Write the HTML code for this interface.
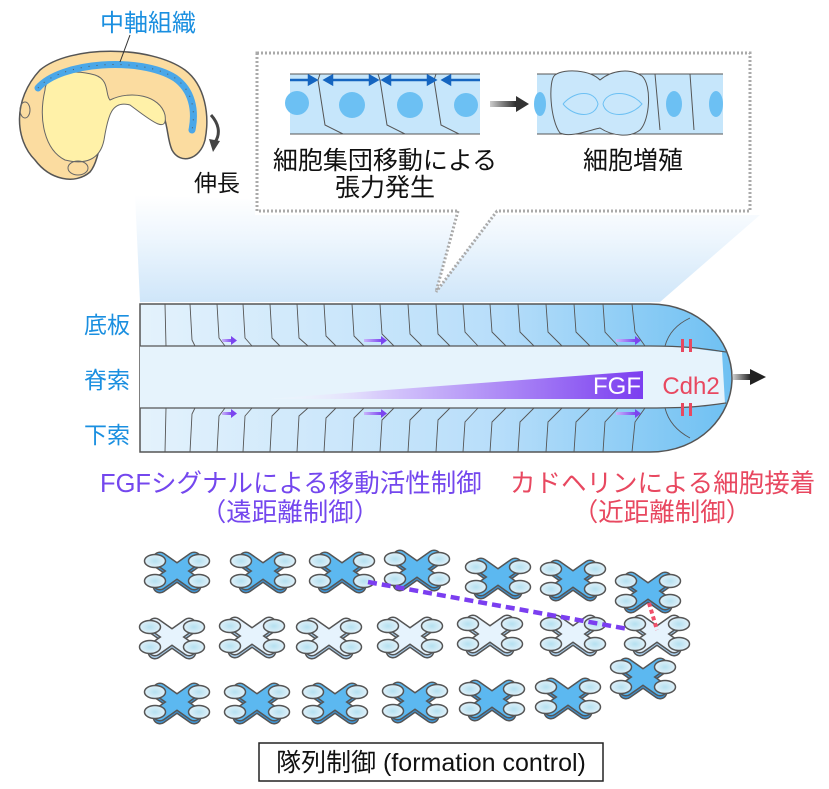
<!DOCTYPE html>
<html><head><meta charset="utf-8">
<style>
html,body{margin:0;padding:0;background:#fff;}
svg{display:block;font-family:"Liberation Sans","Noto Sans CJK JP",sans-serif;}
</style></head>
<body>
<svg width="829" height="789" viewBox="0 0 829 789" xmlns="http://www.w3.org/2000/svg">
<defs>
<linearGradient id="fan" x1="0" y1="0" x2="0" y2="1">
<stop offset="0" stop-color="#ffffff"/><stop offset="0.4" stop-color="#eef6fd"/><stop offset="1" stop-color="#cfe6f9"/></linearGradient>
<linearGradient id="band" x1="0" y1="0" x2="1" y2="0">
<stop offset="0" stop-color="#e4f2fc"/><stop offset="0.6" stop-color="#b8defa"/><stop offset="1" stop-color="#6ec0f2"/></linearGradient>
<linearGradient id="fgf" x1="0" y1="0" x2="1" y2="0">
<stop offset="0" stop-color="#ffffff" stop-opacity="0"/><stop offset="0.3" stop-color="#d8ccfb"/><stop offset="1" stop-color="#7b3ef0"/></linearGradient>
<linearGradient id="arr" x1="0" y1="0" x2="1" y2="0">
<stop offset="0" stop-color="#ccc"/><stop offset="1" stop-color="#222"/></linearGradient>
<linearGradient id="parr" x1="0" y1="0" x2="1" y2="0">
<stop offset="0" stop-color="#c9b5fb"/><stop offset="1" stop-color="#7b45ef"/></linearGradient>
<radialGradient id="rot" cx="0.5" cy="0.5" r="0.6">
<stop offset="0" stop-color="#b5e0f0"/><stop offset="1" stop-color="#e8f4fb"/></radialGradient>
<g id="rotors">
<ellipse cx="-22" cy="-10" rx="10.5" ry="6.5" fill="url(#rot)" stroke="#555" stroke-width="1.5"/>
<ellipse cx="22" cy="-10" rx="10.5" ry="6.5" fill="url(#rot)" stroke="#555" stroke-width="1.5"/>
<ellipse cx="-22" cy="10" rx="10.5" ry="6.5" fill="url(#rot)" stroke="#555" stroke-width="1.5"/>
<ellipse cx="22" cy="10" rx="10.5" ry="6.5" fill="url(#rot)" stroke="#555" stroke-width="1.5"/>
</g>
<g id="dB">
<path d="M-17,-9 L17,15 M-17,15 L17,-9" stroke="#555" stroke-width="15" stroke-linecap="round"/>
<path d="M-17,-9 L17,15 M-17,15 L17,-9" stroke="#3d97da" stroke-width="12" stroke-linecap="round"/>
<path d="M-17,-12 L17,12 M-17,12 L17,-12" stroke="#555" stroke-width="15" stroke-linecap="round"/>
<path d="M-17,-12 L17,12 M-17,12 L17,-12" stroke="#5cb8f0" stroke-width="12" stroke-linecap="round"/>
<use href="#rotors"/>
</g>
<g id="dL">
<path d="M-17,-9 L17,15 M-17,15 L17,-9" stroke="#555" stroke-width="15" stroke-linecap="round"/>
<path d="M-17,-9 L17,15 M-17,15 L17,-9" stroke="#a9cfee" stroke-width="12" stroke-linecap="round"/>
<path d="M-17,-12 L17,12 M-17,12 L17,-12" stroke="#555" stroke-width="15" stroke-linecap="round"/>
<path d="M-17,-12 L17,12 M-17,12 L17,-12" stroke="#e6f3fd" stroke-width="12" stroke-linecap="round"/>
<use href="#rotors"/>
</g>
</defs>

<polygon points="135,195 255,200 255,215 760,215 660,302 140,302" fill="url(#fan)"/>

<g>
<path d="M40,70 C70,45 150,45 185,70 C205,85 210,115 205,140 C200,160 180,165 172,150 C165,135 170,110 150,100 C130,93 110,100 108,110 C100,135 100,160 90,172 C75,185 50,180 35,160 C15,140 12,100 40,70 Z" fill="#fbdca0" stroke="#555" stroke-width="1.5"/>
<path d="M45,90 C45,75 70,68 95,75 C110,80 105,95 110,100 C130,90 160,95 165,115 C168,135 150,120 130,105 C112,100 108,115 104,140 C100,160 85,165 65,160 C45,150 38,120 45,90 Z" fill="#fff1a8" stroke="#666" stroke-width="1"/>
<path d="M38,88 C60,62 140,56 175,78 C192,90 196,110 192,130" fill="none" stroke="#4aa7e8" stroke-width="7" stroke-linecap="round"/>
<path d="M38,88 C60,62 140,56 175,78 C192,90 196,110 192,130" fill="none" stroke="#555" stroke-width="1" stroke-dasharray="1 7"/>
<ellipse cx="25" cy="110" rx="5" ry="8" fill="none" stroke="#666"/>
<ellipse cx="78" cy="168" rx="10" ry="7" fill="none" stroke="#666"/>
<line x1="130" y1="35" x2="120" y2="62" stroke="#333" stroke-width="1"/>
</g>
<text x="100" y="31" font-size="24" fill="#1a8fe0">中軸組織</text>
<path d="M211,115 C220,125 220,135 215,142" fill="none" stroke="#444" stroke-width="3"/>
<polygon points="209,139 220,141 213,152" fill="#444"/>
<text x="194" y="191" font-size="23" fill="#111">伸長</text>

<rect x="257" y="53" width="493" height="158" fill="#fff" stroke="#aaa" stroke-width="3" stroke-dasharray="2 2"/>
<polygon points="458,209 497,209 436,292" fill="#fff"/>
<line x1="458" y1="211" x2="436" y2="292" stroke="#aaa" stroke-width="3" stroke-dasharray="2 2"/>
<line x1="497" y1="211" x2="436" y2="292" stroke="#aaa" stroke-width="3" stroke-dasharray="2 2"/>
<rect x="290" y="74" width="190" height="60" fill="#c6e6fb"/>
<line x1="290" y1="74" x2="480" y2="74" stroke="#555"/><line x1="290" y1="134" x2="480" y2="134" stroke="#555"/>
<path d="M320,74 L318,80 L325,125 L343,134 M378,74 L380,80 L387,125 L405,134 M436,74 L434,80 L441,125 L459,134" fill="none" stroke="#555"/>
<circle cx="297" cy="103" r="12" fill="#6cc0f3"/><circle cx="352" cy="105" r="13" fill="#6cc0f3"/><circle cx="410" cy="105" r="13" fill="#6cc0f3"/><circle cx="466" cy="105" r="12" fill="#6cc0f3"/>
<g stroke="#1565c0" stroke-width="2.5" fill="#1565c0">
<line x1="290" y1="80" x2="312" y2="80"/><polygon points="316,80 309,76 309,84"/>
<line x1="330" y1="80" x2="372" y2="80"/><polygon points="325,80 332,76 332,84"/><polygon points="377,80 370,76 370,84"/>
<line x1="388" y1="80" x2="430" y2="80"/><polygon points="383,80 390,76 390,84"/><polygon points="435,80 428,76 428,84"/>
<line x1="448" y1="80" x2="480" y2="80"/><polygon points="443,80 450,76 450,84"/>
</g>
<rect x="490" y="101" width="28" height="6" fill="url(#arr)"/><polygon points="516,96 529,104 516,112" fill="#333"/>
<rect x="537" y="74" width="186" height="60" fill="#c6e6fb"/>
<line x1="537" y1="74" x2="723" y2="74" stroke="#555"/><line x1="537" y1="134" x2="723" y2="134" stroke="#555"/>
<path d="M555,75 C548,80 550,120 560,133 C570,138 590,130 600,128 C612,136 630,138 640,130 C650,120 652,85 642,76 C630,68 612,70 600,80 C590,70 565,68 555,75 Z" fill="#c9e7fb" stroke="#555"/>
<path d="M563,104 C575,90 595,90 598,104 C595,118 575,118 563,104 M603,104 C606,90 630,90 642,104 C630,118 606,118 603,104" fill="none" stroke="#6cc0f3"/>
<path d="M655,74 L660,130 M690,74 L694,130" stroke="#555" fill="none"/>
<ellipse cx="540" cy="104" rx="6" ry="12" fill="#6cc0f3"/><ellipse cx="674" cy="104" rx="8" ry="13" fill="#6cc0f3"/><ellipse cx="716" cy="104" rx="7" ry="13" fill="#6cc0f3"/>
<text x="385" y="169" font-size="25" fill="#111" text-anchor="middle">細胞集団移動による</text>
<text x="385" y="196" font-size="25" fill="#111" text-anchor="middle">張力発生</text>
<text x="633" y="169" font-size="25" fill="#111" text-anchor="middle">細胞増殖</text>

<path d="M140,304 L650,304 C700,304 732,340 732,378 C732,416 700,452 650,452 L140,452 Z" fill="url(#band)" stroke="#555" stroke-width="1.5"/>
<path d="M140,346 L650,346 C690,346 700,350 722,352 L725,404 C700,406 690,408 650,408 L140,408 Z" fill="#e6f3fc"/>
<line x1="140" y1="346" x2="650" y2="346" stroke="#555" stroke-width="1.2"/>
<line x1="140" y1="408" x2="650" y2="408" stroke="#555" stroke-width="1.2"/>
<path d="M650,346 C690,346 705,349 726,352 M650,408 C690,408 705,406 726,403" fill="none" stroke="#555" stroke-width="1.2"/>
<g fill="none" stroke="#555" stroke-width="0.9">
<path d="M165,304 L166,346 M190,304 L192,340 L195,346 M217,304 L219,338 L225,346 M243,304 L245,338 L252,346 M270,304 L272,338 L280,346 M297,304 L299,338 L308,346 M324,304 L326,336 L336,346 M352,304 L354,336 L364,346 M380,304 L382,334 L394,346 M408,304 L410,334 L422,346 M436,304 L438,334 L450,346 M463,304 L465,332 L478,346 M490,304 L492,332 L506,346 M518,304 L520,332 L534,346 M546,304 L548,332 L562,346 M574,304 L576,332 L590,346 M603,304 L605,332 L618,346 M632,304 L635,332 L645,346 M690,318 C675,325 668,335 665,346"/>
<path d="M165,452 L166,408 M190,452 L192,414 L195,408 M217,452 L219,416 L225,408 M243,452 L245,416 L252,408 M270,452 L272,416 L280,408 M297,452 L299,416 L308,408 M324,452 L326,418 L336,408 M352,452 L354,418 L364,408 M380,452 L382,420 L394,408 M408,452 L410,420 L422,408 M436,452 L438,420 L450,408 M463,452 L465,422 L478,408 M490,452 L492,422 L506,408 M518,452 L520,422 L534,408 M546,452 L548,422 L562,408 M574,452 L576,422 L590,408 M603,452 L605,422 L618,408 M632,452 L635,422 L645,408 M690,438 C675,430 668,420 665,408"/>
</g>
<g>
<rect x="222" y="339" width="10" height="3" fill="url(#parr)"/><polygon points="231,336 237,340.5 231,345" fill="#7b45ef"/>
<rect x="364" y="339" width="18" height="3" fill="url(#parr)"/><polygon points="381,336 387,340.5 381,345" fill="#7b45ef"/>
<rect x="616" y="339" width="20" height="3" fill="url(#parr)"/><polygon points="635,336 641,340.5 635,345" fill="#7b45ef"/>
<rect x="222" y="412" width="10" height="3" fill="url(#parr)"/><polygon points="231,409 237,413.5 231,418" fill="#7b45ef"/>
<rect x="364" y="412" width="18" height="3" fill="url(#parr)"/><polygon points="381,409 387,413.5 381,418" fill="#7b45ef"/>
<rect x="616" y="412" width="20" height="3" fill="url(#parr)"/><polygon points="635,409 641,413.5 635,418" fill="#7b45ef"/>
</g>
<polygon points="265,399 643,371 643,399" fill="url(#fgf)"/>
<text x="641" y="394" font-size="24" fill="#fff" text-anchor="end">FGF</text>
<text x="691" y="394" font-size="24" fill="#e84860" text-anchor="middle">Cdh2</text>
<g fill="#e84860"><rect x="681" y="339" width="3" height="13"/><rect x="689" y="339" width="3" height="13"/><rect x="681" y="403" width="3" height="13"/><rect x="689" y="403" width="3" height="13"/></g>
<rect x="733" y="374" width="18" height="6" fill="url(#arr)"/><polygon points="750,369 766,377 750,385" fill="#222"/>
<text x="84" y="333" font-size="23" fill="#1a8fe0">底板</text>
<text x="84" y="388" font-size="23" fill="#1a8fe0">脊索</text>
<text x="84" y="443" font-size="23" fill="#1a8fe0">下索</text>

<text x="100" y="492" font-size="25.5" fill="#7447ee">FGFシグナルによる移動活性制御</text>
<text x="290" y="521" font-size="25.5" fill="#7447ee" text-anchor="middle">（遠距離制御）</text>
<text x="510" y="492" font-size="25.5" fill="#e84860">カドヘリンによる細胞接着</text>
<text x="662" y="521" font-size="25.5" fill="#e84860" text-anchor="middle">（近距離制御）</text>

<use href="#dB" x="177" y="571"/><use href="#dB" x="263" y="571"/><use href="#dB" x="342" y="571"/><use href="#dB" x="417" y="569"/><use href="#dB" x="498" y="577"/><use href="#dB" x="573" y="579"/><use href="#dB" x="648" y="591"/>
<use href="#dL" x="172" y="637"/><use href="#dL" x="252" y="636"/><use href="#dL" x="329" y="637"/><use href="#dL" x="410" y="636"/><use href="#dL" x="490" y="634"/><use href="#dL" x="573" y="634"/><use href="#dL" x="657" y="634"/>
<use href="#dB" x="177" y="702"/><use href="#dB" x="257" y="702"/><use href="#dB" x="335" y="702"/><use href="#dB" x="415" y="701"/><use href="#dB" x="492" y="699"/><use href="#dB" x="568" y="697"/><use href="#dB" x="643" y="677"/>
<line x1="368" y1="582" x2="628" y2="629" stroke="#7b3ef0" stroke-width="4.5" stroke-dasharray="9 5"/>
<line x1="649" y1="603" x2="657" y2="630" stroke="#f0506a" stroke-width="4" stroke-dasharray="4 3"/>

<rect x="259" y="743" width="344" height="38" fill="#fff" stroke="#222" stroke-width="1.5"/>
<text x="431" y="771" font-size="25" fill="#111" text-anchor="middle">隊列制御  (formation control)</text>
</svg>
</body></html>
